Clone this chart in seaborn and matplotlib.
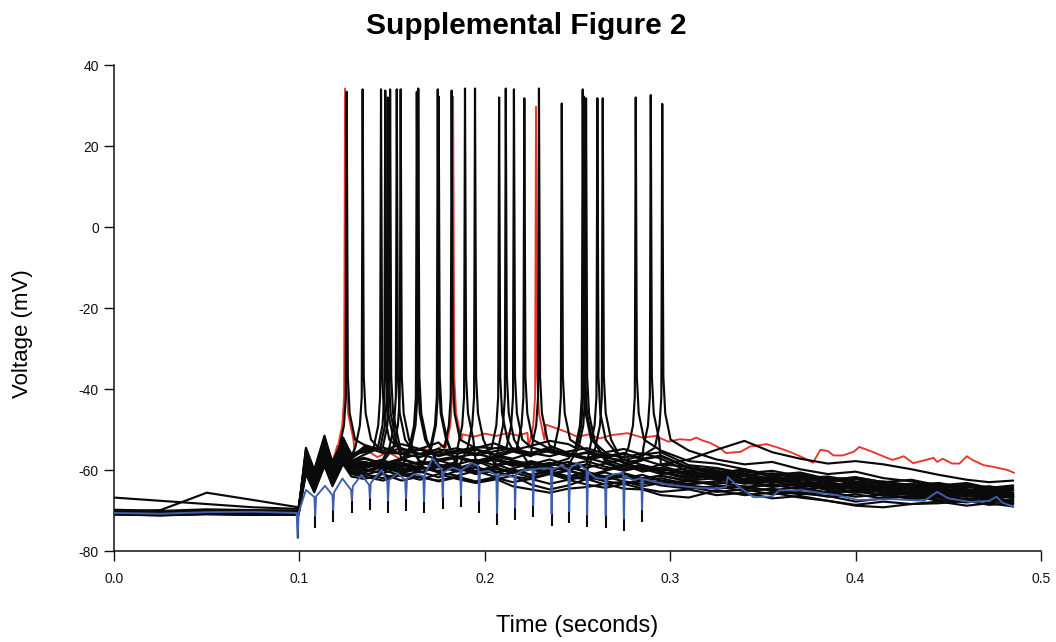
import matplotlib
matplotlib.use("Agg")
import matplotlib.pyplot as plt
import numpy as np
import pandas as pd
import seaborn as sns

# ---------------- data ----------------
title = "Supplemental Figure 2"
x_label = "Time (seconds)"
y_label = "Voltage (mV)"
x_ticks = [0.0, 0.1, 0.2, 0.3, 0.4, 0.5]
y_ticks = [-80, -60, -40, -20, 0, 20, 40]

# common sampling times for the black sweeps (s)
t_grid = [0.000, 0.025, 0.050, 0.075, 0.0995,
          0.1035, 0.1080, 0.1135, 0.1178, 0.1235, 0.1280,
          0.135, 0.145, 0.155, 0.165, 0.175, 0.185, 0.195, 0.205, 0.215,
          0.225, 0.235, 0.245, 0.255, 0.265, 0.275, 0.285, 0.295,
          0.310, 0.325, 0.340, 0.355, 0.370, 0.385, 0.400, 0.415, 0.430,
          0.445, 0.460, 0.472, 0.485]

trace_00 = [-70.2, -70.5, -70.1, -70.3, -70.4, -55.0, -60.2, -52.0, -58.0, -51.0, -55.0, -53.8, -55.2, -53.6, -54.8, -53.2, -53.8, -54.6, -53.4, -55.2, -54.0, -52.8, -53.6, -54.4, -55.6, -54.8, -56.2, -55.6, -58.8, -59.5, -60.8, -60.2, -61.5, -62.4, -61.8, -63.0, -63.6, -63.2, -64.4, -64.0, -65.0]
trace_01 = [-70.6, -70.9, -70.5, -70.7, -70.8, -56.0, -61.0, -53.0, -59.0, -52.0, -56.5, -53.2, -55.6, -56.0, -54.8, -56.4, -55.2, -54.4, -53.6, -55.0, -55.8, -56.6, -55.4, -54.6, -56.0, -56.8, -54.0, -55.2, -57.8, -58.4, -59.8, -61.2, -60.6, -62.2, -63.5, -62.8, -64.0, -64.6, -65.2, -64.8, -66.0]
trace_02 = [-70.0, -70.3, -69.9, -70.1, -70.2, -54.5, -60.0, -51.5, -58.5, -52.5, -56.0, -55.4, -53.8, -55.0, -56.2, -55.6, -56.8, -56.0, -54.6, -53.4, -54.4, -55.6, -56.4, -55.8, -57.0, -57.6, -56.4, -55.2, -55.2, -57.4, -58.6, -58.0, -59.8, -61.0, -60.4, -62.0, -62.8, -64.2, -63.6, -64.6, -64.2]
trace_03 = [-70.4, -70.6, -70.3, -70.5, -70.6, -56.5, -61.5, -53.5, -59.5, -53.0, -57.2, -54.8, -53.4, -56.0, -56.8, -55.4, -54.6, -56.0, -57.0, -55.4, -53.6, -54.8, -56.2, -57.4, -56.6, -58.2, -57.4, -58.8, -61.2, -60.4, -62.2, -63.0, -62.4, -63.8, -64.4, -63.6, -65.0, -65.8, -65.2, -66.2, -65.6]
trace_04 = [-70.8, -71.0, -70.7, -70.9, -71.0, -57.0, -62.0, -54.0, -60.0, -53.5, -57.8, -56.2, -54.4, -57.2, -56.0, -57.4, -56.6, -58.0, -56.8, -55.4, -56.6, -54.0, -55.8, -57.0, -58.2, -57.4, -58.8, -59.8, -60.6, -62.0, -61.4, -62.8, -64.0, -63.4, -64.8, -65.4, -64.8, -66.0, -66.6, -66.0, -67.0]
trace_05 = [-69.8, -70.1, -69.7, -69.9, -70.0, -55.5, -60.5, -52.5, -58.8, -52.0, -56.4, -54.6, -53.6, -55.8, -54.8, -56.6, -55.4, -54.8, -56.2, -57.2, -55.8, -54.4, -53.6, -55.2, -56.6, -55.8, -57.4, -56.6, -59.6, -60.8, -59.8, -61.6, -62.6, -62.0, -63.2, -64.0, -63.4, -64.6, -64.0, -65.2, -64.6]
trace_06 = [-70.3, -70.7, -70.4, -70.6, -70.5, -57.5, -62.5, -55.0, -60.5, -54.5, -58.0, -58.6, -57.4, -55.6, -57.8, -58.8, -59.6, -58.2, -57.0, -58.4, -59.6, -58.6, -57.2, -55.8, -57.4, -59.0, -60.2, -59.4, -61.0, -62.4, -63.2, -62.2, -63.6, -64.6, -64.0, -65.2, -66.0, -65.4, -66.4, -67.0, -66.4]
trace_07 = [-70.9, -71.2, -70.8, -71.0, -71.1, -58.0, -63.0, -55.5, -61.0, -55.0, -58.6, -59.2, -58.0, -56.2, -58.4, -57.6, -59.0, -60.2, -59.2, -58.0, -59.6, -60.4, -58.8, -56.6, -58.0, -59.6, -58.8, -60.6, -62.2, -61.4, -63.0, -64.2, -63.4, -65.0, -65.6, -65.0, -66.2, -66.8, -66.2, -67.2, -67.6]
trace_08 = [-70.1, -70.4, -70.2, -70.3, -70.3, -56.8, -61.8, -54.5, -60.2, -54.0, -57.6, -58.0, -59.2, -57.6, -56.2, -58.6, -59.8, -58.6, -57.4, -59.0, -58.0, -59.4, -60.2, -58.6, -56.8, -58.2, -59.6, -61.0, -60.2, -61.6, -62.8, -62.0, -63.4, -62.8, -64.4, -65.0, -64.4, -65.6, -65.0, -66.0, -66.8]
trace_09 = [-70.5, -70.8, -70.6, -70.7, -70.7, -58.5, -63.5, -56.0, -61.5, -55.5, -59.0, -59.6, -58.2, -59.4, -57.0, -58.8, -60.2, -59.2, -60.6, -59.6, -58.4, -60.0, -59.0, -60.4, -57.2, -58.6, -60.4, -59.6, -61.4, -60.6, -62.4, -61.6, -63.2, -64.2, -63.6, -64.8, -64.2, -65.4, -66.2, -65.6, -66.4]
trace_10 = [-70.2, -70.5, -70.3, -70.4, -70.4, -59.0, -64.0, -56.5, -62.0, -56.0, -59.4, -58.4, -60.0, -58.8, -60.2, -57.4, -58.8, -60.4, -59.4, -60.8, -59.8, -61.0, -60.0, -61.4, -60.2, -59.0, -57.6, -58.6, -59.2, -60.2, -61.6, -62.6, -62.0, -63.0, -64.6, -63.8, -65.2, -64.6, -65.8, -66.6, -66.0]
trace_11 = [-71.0, -71.2, -70.9, -71.1, -71.0, -59.5, -64.5, -57.5, -62.5, -57.0, -60.0, -60.6, -59.2, -60.8, -59.6, -57.8, -59.4, -61.0, -60.2, -61.6, -62.2, -61.0, -62.4, -61.6, -62.8, -63.4, -62.6, -63.8, -64.6, -64.0, -65.2, -64.6, -65.8, -66.4, -67.8, -67.0, -66.4, -67.6, -67.0, -68.0, -67.4]
trace_12 = [-70.3, -70.6, -70.4, -70.5, -70.5, -58.0, -63.2, -56.0, -61.0, -55.5, -59.2, -59.8, -60.8, -59.4, -60.6, -59.2, -58.0, -57.6, -59.6, -60.6, -59.4, -60.8, -61.8, -60.6, -62.0, -61.4, -62.6, -63.2, -62.6, -63.8, -64.4, -63.6, -64.8, -65.6, -65.0, -66.2, -66.8, -66.2, -67.2, -66.6, -67.8]
trace_13 = [-70.7, -71.0, -70.8, -70.9, -70.9, -60.0, -65.0, -58.0, -63.0, -57.5, -60.6, -61.2, -60.0, -61.4, -60.4, -61.8, -60.2, -59.4, -58.4, -60.0, -61.2, -60.2, -61.6, -62.4, -61.6, -62.8, -63.4, -62.6, -63.8, -64.6, -64.0, -65.2, -66.0, -65.4, -66.6, -66.0, -67.2, -66.8, -67.8, -67.2, -68.2]
trace_14 = [-70.0, -70.2, -70.0, -70.1, -70.1, -57.8, -62.8, -55.5, -61.0, -55.0, -58.8, -59.4, -58.4, -60.0, -59.0, -60.4, -59.4, -60.8, -59.8, -58.2, -59.6, -61.0, -60.2, -61.4, -60.6, -62.0, -61.2, -62.6, -63.4, -62.8, -64.2, -63.4, -64.8, -64.2, -65.4, -66.0, -65.4, -66.6, -66.0, -67.0, -67.6]
trace_15 = [-70.6, -70.9, -70.7, -70.8, -70.8, -61.0, -65.5, -59.0, -64.0, -58.5, -61.6, -62.2, -61.0, -62.6, -61.6, -62.8, -61.8, -63.0, -62.0, -64.0, -64.8, -65.6, -64.6, -64.2, -63.4, -64.6, -64.8, -66.2, -66.8, -65.0, -66.2, -65.6, -66.8, -67.6, -68.8, -69.2, -68.4, -68.2, -67.6, -68.6, -68.2]
trace_16 = [-70.4, -70.7, -70.5, -70.6, -70.6, -57.2, -62.2, -54.8, -60.6, -54.2, -58.2, -58.8, -57.6, -59.0, -58.0, -59.4, -58.6, -57.4, -58.8, -57.8, -59.2, -58.2, -59.6, -58.6, -59.8, -58.8, -60.0, -58.6, -57.4, -55.0, -52.8, -55.6, -57.2, -58.4, -57.8, -58.6, -59.8, -61.2, -62.4, -63.0, -62.6]
trace_17 = [-70.8, -71.1, -70.9, -71.0, -71.0, -60.5, -65.2, -58.5, -63.5, -58.0, -61.0, -61.6, -62.6, -61.2, -62.4, -61.0, -62.2, -63.2, -62.4, -61.4, -63.6, -64.8, -63.8, -62.2, -63.6, -62.8, -64.0, -63.2, -64.2, -65.4, -64.8, -66.0, -65.4, -66.6, -66.0, -67.0, -66.4, -67.4, -68.0, -67.4, -68.4]
trace_18 = [-66.8, -67.6, -68.4, -69.2, -69.6, -56.2, -61.2, -53.8, -59.8, -53.6, -57.6, -57.0, -58.4, -57.2, -58.6, -57.8, -57.0, -58.2, -57.4, -58.8, -57.8, -59.0, -58.0, -59.4, -58.4, -59.8, -58.8, -60.2, -59.6, -61.0, -60.2, -61.6, -61.0, -62.4, -61.8, -63.0, -62.4, -63.8, -63.2, -64.4, -63.8]
trace_19 = [-70.2, -69.9, -65.6, -67.4, -69.2, -57.6, -62.6, -55.2, -60.8, -54.8, -58.6, -58.2, -59.6, -58.6, -59.8, -59.0, -60.4, -59.4, -60.8, -59.8, -61.2, -60.2, -59.2, -60.6, -61.6, -60.8, -62.0, -61.4, -62.6, -62.0, -63.4, -62.8, -64.2, -63.6, -64.8, -64.2, -65.4, -64.8, -66.0, -65.4, -66.6]
trace_20 = [-70.5, -70.8, -70.6, -70.7, -70.7, -56.4, -61.4, -53.2, -59.4, -52.8, -56.8, -54.2, -55.8, -54.6, -56.0, -54.8, -56.0, -55.0, -56.2, -55.0, -56.4, -55.2, -56.6, -55.6, -56.8, -56.0, -57.2, -56.4, -59.4, -60.2, -61.4, -60.8, -62.0, -61.6, -62.8, -63.4, -64.2, -63.6, -64.8, -65.6, -65.0]
trace_21 = [-70.1, -70.4, -70.2, -70.3, -70.3, -58.6, -63.6, -56.4, -61.8, -56.2, -59.6, -60.2, -59.0, -60.4, -59.2, -60.6, -61.4, -60.2, -61.6, -60.6, -61.8, -60.8, -62.2, -61.2, -62.4, -61.6, -62.8, -62.0, -63.6, -62.8, -64.4, -65.0, -64.2, -65.6, -65.0, -66.4, -65.8, -66.6, -66.2, -67.0, -66.6]
trace_22 = [-70.9, -71.1, -70.8, -70.9, -70.9, -55.8, -60.8, -52.8, -59.0, -52.4, -56.2, -55.6, -54.4, -56.0, -55.0, -56.2, -55.2, -56.4, -55.4, -54.6, -55.8, -54.8, -56.0, -57.0, -56.0, -57.0, -55.8, -57.2, -60.4, -59.6, -61.0, -62.2, -61.4, -62.8, -62.2, -63.6, -64.4, -63.8, -65.0, -64.4, -65.6]
trace_23 = [-70.3, -70.5, -70.3, -70.4, -70.4, -59.8, -64.6, -57.8, -62.8, -57.4, -60.4, -61.0, -62.0, -60.8, -61.8, -62.6, -61.6, -62.8, -61.8, -63.0, -62.2, -63.4, -62.4, -63.6, -64.4, -63.4, -64.6, -65.4, -64.8, -66.2, -65.6, -67.0, -66.4, -67.6, -68.6, -67.8, -68.4, -67.8, -68.8, -68.2, -69.0]
trace_24 = [-70.7, -70.9, -70.6, -70.8, -70.8, -57.4, -62.4, -54.6, -60.2, -54.0, -57.8, -57.2, -58.6, -57.4, -58.8, -57.6, -56.8, -57.8, -56.6, -57.6, -58.6, -57.4, -58.8, -57.8, -59.2, -60.2, -59.2, -60.4, -61.8, -61.0, -62.4, -61.8, -63.0, -63.8, -63.2, -64.4, -63.8, -65.0, -65.8, -65.2, -66.2]
trace_25 = [-70.0, -70.2, -70.1, -70.2, -70.2, -58.2, -63.0, -55.8, -61.2, -55.2, -58.8, -58.0, -59.2, -58.2, -59.4, -60.2, -59.0, -60.4, -59.2, -60.6, -59.6, -60.8, -61.6, -60.4, -61.8, -60.8, -62.2, -61.4, -62.8, -63.4, -62.6, -64.0, -63.4, -64.8, -64.2, -65.6, -65.0, -66.2, -65.6, -66.8, -66.0]

black_traces = [trace_00, trace_01, trace_02, trace_03, trace_04, trace_05, trace_06,
                trace_07, trace_08, trace_09, trace_10, trace_11, trace_12, trace_13,
                trace_14, trace_15, trace_16, trace_17, trace_18, trace_19, trace_20,
                trace_21, trace_22, trace_23, trace_24, trace_25]

# action potentials of the black sweeps: time (s), peak (mV), sweep index
spike_times = [0.1255, 0.1341, 0.1440, 0.1463, 0.1476, 0.1489, 0.1525, 0.1546, 0.1633, 0.1641,
               0.1746, 0.1751, 0.1821, 0.1893, 0.1947, 0.2077, 0.2113, 0.2157, 0.2213, 0.2292,
               0.2415, 0.2528, 0.2535, 0.2546, 0.2607, 0.2636, 0.2814, 0.2895, 0.2957]
spike_peaks = [33.4, 34.0, 34.0, 33.7, 32.0, 34.0, 34.0, 34.0, 33.4, 34.2,
               34.0, 32.2, 33.7, 34.2, 34.2, 32.0, 34.2, 34.0, 31.8, 34.2,
               30.5, 34.0, 32.2, 31.8, 31.8, 31.8, 32.0, 32.6, 30.4]
spike_trace = [0, 1, 2, 3, 4, 5, 6, 7, 8, 9,
               10, 11, 0, 12, 13, 1, 14, 2, 3, 4,
               5, 0, 6, 7, 8, 9, 1, 10, 2]

# action-potential waveform (time offset s, mV; None = peak)
spike_dt = [-0.0040, -0.0015, -0.0005, 0.0, 0.0006, 0.0016, 0.0045]
spike_shape = [-54.5, -49.0, -42.0, None, -37.0, -46.0, -52.5]

# stimulus artefacts (s, mV)
pulse_times = [0.0990, 0.1085, 0.1182, 0.1283, 0.1380, 0.1478, 0.1575, 0.1672, 0.1773, 0.1871,
               0.1969, 0.2066, 0.2163, 0.2261, 0.2360, 0.2455, 0.2552, 0.2652, 0.2750, 0.2848]
artifact_top = [-70.6, -66.7, -66.2, -64.9, -63.7, -62.9, -62.5, -61.5, -60.0, -60.0,
                -59.0, -61.2, -61.8, -59.8, -59.6, -59.8, -60.0, -62.2, -60.8, -62.0]
artifact_bottom = [-76.8, -74.3, -72.8, -70.5, -69.9, -70.5, -70.0, -70.7, -69.7, -69.2,
                   -70.5, -73.6, -72.3, -71.7, -73.8, -73.2, -74.0, -74.2, -75.0, -72.8]

# red sweep
red_t = [0.000, 0.025, 0.050, 0.075, 0.0990, 0.1000, 0.1035, 0.1080, 0.1135, 0.1178, 0.1205,
         0.1300, 0.1360, 0.1420, 0.1480, 0.1540, 0.1600, 0.1660, 0.1720, 0.1780,
         0.1880, 0.1940, 0.2000, 0.2060, 0.2120, 0.2180, 0.2230,
         0.2330, 0.2380, 0.2440, 0.2500, 0.2560, 0.2620, 0.2680, 0.2770, 0.2850, 0.2920, 0.2990,
         0.3050, 0.3110, 0.3140, 0.3180, 0.3210, 0.3270, 0.3300, 0.3380, 0.3430, 0.3520, 0.3590,
         0.3650, 0.3720, 0.3770, 0.3810, 0.3850, 0.3880, 0.3930, 0.3990, 0.4020, 0.4090, 0.4170,
         0.4200, 0.4260, 0.4310, 0.4380, 0.4420, 0.4440, 0.4470, 0.4520, 0.4560, 0.4600, 0.4630,
         0.4690, 0.4740, 0.4820, 0.4855]
red_v = [-70.0, -70.4, -70.0, -70.2, -70.3, -68.5, -56.5, -60.5, -53.2, -57.8, -54.0,
         -56.5, -55.0, -56.8, -55.6, -57.2, -55.8, -54.6, -55.4, -53.8,
         -51.2, -51.8, -51.0, -51.6, -50.9, -51.5, -50.8,
         -48.8, -49.6, -50.6, -51.8, -51.2, -52.2, -51.4, -50.9, -52.0, -51.6, -53.0,
         -52.4, -52.6, -52.0, -52.8, -53.2, -54.6, -55.8, -55.5, -54.2, -53.6, -54.6,
         -55.6, -57.0, -58.2, -55.0, -55.3, -56.4, -56.4, -55.5, -54.3, -55.5, -57.0,
         -57.5, -56.6, -58.3, -57.5, -57.0, -58.0, -57.2, -58.4, -58.4, -56.6, -57.5,
         -58.8, -59.2, -60.0, -60.7]
red_spike_times = [0.1246, 0.1829, 0.2276]
red_spike_peaks = [34.2, 32.2, 29.7]

# blue sweep (includes its stimulus artefacts)
blue_t = [0.000, 0.025, 0.050, 0.075, 0.0985,
          0.0990, 0.0996, 0.1035, 0.1081,
          0.1085, 0.1090, 0.1138, 0.1178,
          0.1182, 0.1187, 0.1232, 0.1278,
          0.1283, 0.1288, 0.1335, 0.1376,
          0.1380, 0.1385, 0.1443, 0.1474,
          0.1478, 0.1483, 0.1530, 0.1570,
          0.1575, 0.1580, 0.1620, 0.1668,
          0.1672, 0.1677, 0.1718, 0.1768,
          0.1773, 0.1778, 0.1825, 0.1867,
          0.1871, 0.1876, 0.1930, 0.1965,
          0.1969, 0.1974, 0.2020, 0.2062,
          0.2066, 0.2071, 0.2110, 0.2160,
          0.2163, 0.2168, 0.2210, 0.2257,
          0.2261, 0.2266, 0.2300, 0.2356,
          0.2360, 0.2365, 0.2410, 0.2450,
          0.2455, 0.2460, 0.2500, 0.2548,
          0.2552, 0.2557, 0.2600, 0.2648,
          0.2652, 0.2657, 0.2700, 0.2746,
          0.2750, 0.2755, 0.2800, 0.2844,
          0.2848, 0.2853, 0.2900,
          0.300, 0.315, 0.325, 0.330, 0.331, 0.336, 0.345, 0.355, 0.359, 0.372, 0.380,
          0.390, 0.401, 0.420, 0.437, 0.444, 0.450, 0.462, 0.472, 0.476, 0.479, 0.485]
blue_v = [-70.6, -70.8, -70.4, -70.3, -70.6,
          -76.8, -70.5, -64.9, -66.7,
          -71.3, -66.5, -63.9, -66.2,
          -69.8, -65.5, -62.1, -64.9,
          -67.5, -64.0, -61.2, -63.7,
          -66.9, -63.2, -60.0, -62.9,
          -67.5, -62.5, -60.8, -62.5,
          -67.0, -62.2, -61.0, -61.5,
          -67.7, -61.0, -57.1, -60.0,
          -66.7, -60.5, -59.4, -60.0,
          -66.2, -60.0, -58.3, -59.0,
          -67.5, -60.5, -60.2, -61.2,
          -70.6, -61.5, -61.2, -61.8,
          -69.3, -61.0, -60.0, -59.8,
          -68.7, -59.8, -59.6, -59.6,
          -70.8, -59.8, -59.0, -59.8,
          -70.2, -59.5, -58.3, -60.0,
          -71.0, -60.5, -62.0, -62.2,
          -71.2, -61.8, -61.0, -60.8,
          -72.0, -61.5, -62.5, -62.0,
          -69.8, -62.2, -62.8,
          -63.7, -64.4, -64.6, -64.2, -61.7, -63.8, -66.7, -66.5, -65.0, -65.0, -65.6,
          -66.2, -67.4, -67.2, -67.6, -65.4, -67.0, -67.9, -67.6, -66.6, -68.0, -69.1]

assert len(blue_t) == len(blue_v) and len(red_t) == len(red_v)
assert all(len(tr) == len(t_grid) for tr in black_traces)


# ---------------- build long-form tables ----------------
def build_sweep(times, volts, sp_times, sp_peaks):
    pts = [(t, v) for t, v in zip(times, volts)
           if not any(s + spike_dt[0] <= t <= s + spike_dt[-1] for s in sp_times)]
    for s, pk in zip(sp_times, sp_peaks):
        for dt, sv in zip(spike_dt, spike_shape):
            pts.append((s + dt, pk if sv is None else sv))
    pts.sort()
    return pts


rows = []
for k, tr in enumerate(black_traces):
    sp_t = [s for s, i in zip(spike_times, spike_trace) if i == k]
    sp_p = [p for p, i in zip(spike_peaks, spike_trace) if i == k]
    for t, v in build_sweep(t_grid, tr, sp_t, sp_p):
        rows.append({"time": t, "voltage": v, "sweep": k})
black_df = pd.DataFrame(rows)

red_df = pd.DataFrame(build_sweep(red_t, red_v, red_spike_times, red_spike_peaks),
                      columns=["time", "voltage"])
blue_df = pd.DataFrame({"time": blue_t, "voltage": blue_v})

# ---------------- plotting ----------------
sns.set_style("ticks")
plt.rcParams["font.family"] = ["Liberation Sans", "DejaVu Sans"]
plt.rcParams["axes.unicode_minus"] = False
plt.rcParams["text.color"] = "black"
plt.rcParams["axes.labelcolor"] = "black"

fig = plt.figure(figsize=(10.56, 6.42), dpi=100)
ax = fig.add_axes([0.1080, 0.1417, 0.8778, 0.7570])

BLACK = "#0a0a0a"
RED = "#e8352b"
BLUE = "#3f5fae"

sns.lineplot(data=red_df, x="time", y="voltage", color=RED, lw=1.35,
             sort=False, estimator=None, ax=ax, zorder=1.5)
sns.lineplot(data=black_df, x="time", y="voltage", units="sweep", estimator=None,
             color=BLACK, lw=1.55, sort=False, ax=ax, zorder=2, legend=False)
ax.vlines(pulse_times, artifact_bottom, artifact_top, color=BLACK, lw=1.5, zorder=2.5)
sns.lineplot(data=blue_df, x="time", y="voltage", color=BLUE, lw=1.35,
             sort=False, estimator=None, ax=ax, zorder=3)

ax.set_xlim(0.0, 0.5)
ax.set_ylim(-80, 40)
ax.set_xticks(x_ticks)
ax.set_xticklabels([f"{v:.1f}" for v in x_ticks])
ax.set_yticks(y_ticks)
ax.set_yticklabels([str(v) for v in y_ticks])
ax.tick_params(axis="both", direction="out", length=7, width=1.0, color="#111111",
               labelsize=10, labelcolor="#111111", pad=4)
ax.tick_params(axis="x", pad=8)
for side in ("top", "right"):
    ax.spines[side].set_visible(False)
for side in ("left", "bottom"):
    ax.spines[side].set_linewidth(1.1)
    ax.spines[side].set_color("#111111")

ax.set_xlabel(x_label, fontsize=17, labelpad=21, color="black")
ax.set_ylabel("")
fig.text(0.021, 0.48, y_label, rotation=90, fontsize=16, ha="center", va="center",
         color="black")
fig.text(0.498, 0.959, title, fontsize=21.5, fontweight="bold", ha="center", va="center",
         color="black")

fig.savefig("out.png", dpi=100)
